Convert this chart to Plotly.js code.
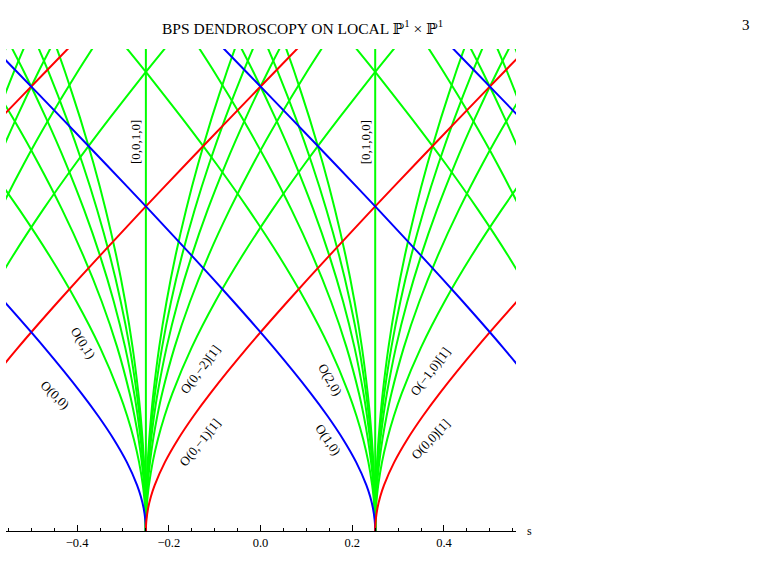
<!DOCTYPE html>
<html>
<head>
<meta charset="utf-8">
<script src="https://cdn.plot.ly/plotly-3.0.1.min.js"></script>
<style>
  html, body { margin: 0; padding: 0; background: #ffffff; }
  #plot { width: 758px; height: 587px; }
</style>
</head>
<body>
<div id="plot"></div>
<script>
// Heights t at which every branch is tabulated
const heights = [0, 0.01, 0.025, 0.05, 0.075, 0.1, 0.15, 0.2, 0.25, 0.3, 0.4, 0.5, 0.6, 0.7, 0.8, 0.9, 1.0, 1.1];

// Horizontal distance |s - s0| of each branch from the point s0 where it starts
const branchOuter = [0, 0.0002, 0.00125, 0.00495, 0.01101, 0.01926, 0.04155, 0.07016, 0.10355, 0.14051, 0.2217, 0.30902, 0.4, 0.4933, 0.58815, 0.68408, 0.78078, 0.87805];
const branch2 = [0, 0.00007, 0.00042, 0.00167, 0.00374, 0.00664, 0.01485, 0.02621, 0.04057, 0.05778, 0.1, 0.15139, 0.21047, 0.27591, 0.34659, 0.42154, 0.5, 0.58135];
const branch3 = [0, 0.00004, 0.00025, 0.001, 0.00225, 0.00399, 0.00897, 0.0159, 0.02475, 0.0355, 0.06244, 0.09629, 0.13654, 0.18266, 0.23408, 0.29029, 0.35078, 0.41508];
const branch4 = [0, 0.00003, 0.00018, 0.00071, 0.00161, 0.00286, 0.00642, 0.01139, 0.01777, 0.02553, 0.04513, 0.07003, 0.1, 0.13481, 0.17419, 0.21787, 0.26556, 0.317];
const branch5 = [0, 0.00002, 0.00014, 0.00056, 0.00125, 0.00222, 0.005, 0.00887, 0.01385, 0.01991, 0.03528, 0.05489, 0.07863, 0.10637, 0.13799, 0.17332, 0.21221, 0.2545];
const branch6 = [0, 0.00002, 0.00011, 0.00045, 0.00102, 0.00182, 0.00409, 0.00726, 0.01134, 0.01632, 0.02894, 0.04509, 0.06469, 0.08769, 0.114, 0.14353, 0.17618, 0.21184];
const greenBranches = [branch2, branch3, branch4, branch5, branch6];

// Points on the s axis from which the fans of rays emanate
const startPoints = [-1.25, -0.75, -0.25, 0.25, 0.75, 1.25];

// Ray labels
const labelText = ['[0,0,1,0]', '[0,1,0,0]', 'O(0,1)', 'O(0,0)', 'O(0,\u22122)[1]', 'O(0,\u22121)[1]',
                   'O(2,0)', 'O(1,0)', 'O(\u22121,0)[1]', 'O(0,0)[1]'];
const labelS = [-0.274, 0.228, -0.3876, -0.4487, -0.132, -0.132, 0.1517, 0.147, 0.370, 0.370];
const labelT = [0.847, 0.847, 0.410, 0.297, 0.3515, 0.192, 0.33, 0.199, 0.347, 0.199];
const labelAngle = [-90, -90, 58, 45, -53, -51, 60, 56, -53, -47];

const GREEN = '#00ff00', BLUE = '#0000ff', RED = '#ff0000';
const traces = [];
function ray(xs, ys, color) {
  traces.push({
    type: 'scatter', mode: 'lines', x: xs, y: ys,
    line: { color: color, width: 2, shape: 'spline', smoothing: 0.6 },
    hoverinfo: 'skip', showlegend: false
  });
}

// green fans and vertical rays
startPoints.forEach(s0 => {
  traces.push({
    type: 'scatter', mode: 'lines', x: [s0, s0], y: [0, 1.1],
    line: { color: GREEN, width: 2 }, hoverinfo: 'skip', showlegend: false
  });
  greenBranches.forEach(b => {
    ray(b.map(u => s0 - u), heights, GREEN);
    ray(b.map(u => s0 + u), heights, GREEN);
  });
});
// outer branches: blue going left, red going right
startPoints.forEach(s0 => {
  ray(branchOuter.map(u => s0 - u), heights, BLUE);
  ray(branchOuter.map(u => s0 + u), heights, RED);
});

const serif = 'Liberation Serif, DejaVu Serif, serif';
const annotations = labelText.map((t, i) => ({
  x: labelS[i], y: labelT[i], xref: 'x', yref: 'y', text: t, showarrow: false,
  textangle: labelAngle[i], font: { family: serif, size: 13, color: '#000' }
}));
annotations.push(
  { xref: 'paper', yref: 'paper', x: 0.582, y: 1.0705, text: 'BPS DENDROSCOPY ON LOCAL \u2119<sup>1</sup> \u00d7 \u2119<sup>1</sup>',
    showarrow: false, font: { family: serif, size: 15.5, color: '#000' } },
  { xref: 'paper', yref: 'paper', x: 1.462, y: 1.0705, text: '3', showarrow: false,
    font: { family: serif, size: 15, color: '#000' } },
  { xref: 'paper', yref: 'paper', x: 1.027, y: 0, text: 's', showarrow: false, xanchor: 'center', yanchor: 'middle',
    font: { family: serif, size: 12, color: '#000' } }
);

const layout = {
  width: 758, height: 587,
  margin: { l: 6, r: 242, t: 49, b: 56, pad: 0 },
  paper_bgcolor: '#ffffff', plot_bgcolor: '#ffffff',
  showlegend: false,
  xaxis: {
    range: [-0.555, 0.557], showgrid: false, zeroline: false,
    showline: true, linecolor: '#000', linewidth: 1,
    tickmode: 'linear', tick0: 0, dtick: 0.2, tickformat: '.1f',
    ticks: 'inside', ticklen: 6, tickwidth: 1, tickcolor: '#000',
    tickfont: { family: serif, size: 12.5, color: '#000' },
    minor: { tickmode: 'linear', tick0: 0, dtick: 0.05, ticks: 'inside', ticklen: 3, tickwidth: 1, tickcolor: '#000', showgrid: false },
    fixedrange: true
  },
  yaxis: { range: [0, 1.05], visible: false, fixedrange: true },
  annotations: annotations
};

Plotly.newPlot('plot', traces, layout, { staticPlot: true, displayModeBar: false });
</script>
</body>
</html>
